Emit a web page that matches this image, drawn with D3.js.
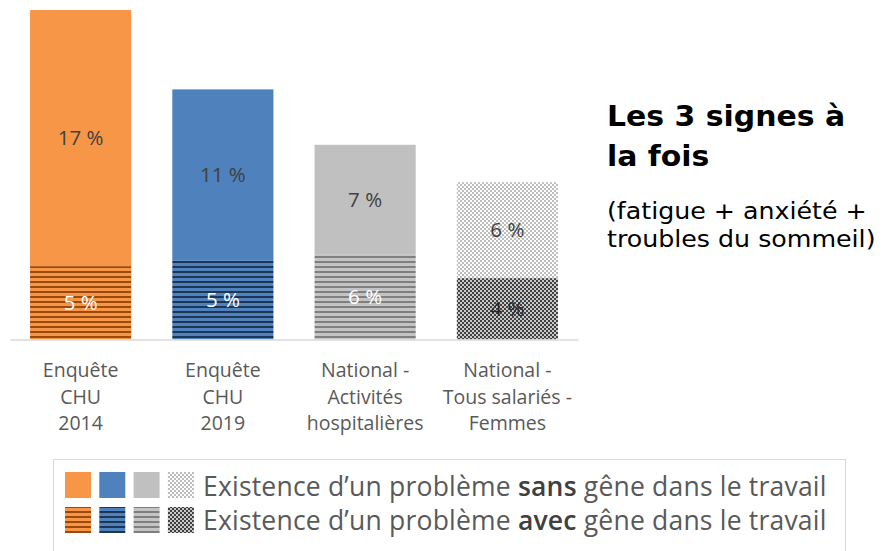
<!DOCTYPE html>
<html>
<head>
<meta charset="utf-8">
<script src="https://cdn.jsdelivr.net/npm/d3@7"></script>
<style>
  body { margin: 0; background: #fff; }
  text { font-family: "Open Sans", sans-serif; }
</style>
</head>
<body>
<script>
// données
const categories = [
    ['Enquête', 'CHU', '2014'],
    ['Enquête', 'CHU', '2019'],
    ['National -', 'Activités', 'hospitalières'],
    ['National -', 'Tous salariés -', 'Femmes']
];
const avecGene = [4.9, 5.3, 5.7, 4.1];
const sansGene = [17.1, 11.4, 7.3, 6.4];
const labelsAvec = ['5 %', '5 %', '6 %', '4 %'];
const labelsSans = ['17 %', '11 %', '7 %', '6 %'];
const legendTexts = [
    ['Existence d\u2019un problème ', 'sans', ' gêne dans le travail'],
    ['Existence d\u2019un problème ', 'avec', ' gêne dans le travail']
];

const width = 882;
const height = 551;

const svg = d3.select('body')
    .append('svg')
    .attr('width', width)
    .attr('height', height);

// motifs (rayures / damiers)
const defs = svg.append('defs');
const stripes = [
    { id: 's0', light: '#f79646', dark: '#9a4a0c' },
    { id: 's1', light: '#4f81bd', dark: '#1d3655' },
    { id: 's2', light: '#c4c4c4', dark: '#7f7f7f' }
];
stripes.forEach(s => {
    const p = defs.append('pattern')
        .attr('id', s.id)
        .attr('patternUnits', 'userSpaceOnUse')
        .attr('width', 8).attr('height', 5);
    p.append('rect').attr('width', 8).attr('height', 5).attr('fill', s.light);
    p.append('rect').attr('y', 1).attr('width', 8).attr('height', 2).attr('fill', s.dark);
});
function checker(id, a, b) {
    const p = defs.append('pattern')
        .attr('id', id)
        .attr('patternUnits', 'userSpaceOnUse')
        .attr('width', 4).attr('height', 4);
    p.append('rect').attr('width', 4).attr('height', 4).attr('fill', a);
    p.append('rect').attr('width', 2).attr('height', 2).attr('fill', b);
    p.append('rect').attr('x', 2).attr('y', 2).attr('width', 2).attr('height', 2).attr('fill', b);
}
checker('c0', '#ffffff', '#bdbdbd');
checker('c1', '#c8c8c8', '#404040');

const fillSans = ['#f79646', '#4f81bd', '#c0c0c0', 'url(#c0)'];
const fillAvec = ['url(#s0)', 'url(#s1)', 'url(#s2)', 'url(#c1)'];
const colorSans = ['#404040', '#404040', '#404040', '#404040'];
const colorAvec = ['#ffffff', '#ffffff', '#ffffff', '#262626'];

// échelles
const xScale = d3.scaleBand()
    .domain(d3.range(categories.length))
    .range([10, 578])
    .paddingInner(0.289)
    .paddingOuter(0.141);
const yScale = d3.scaleLinear()
    .domain([0, 22])
    .range([339.5, 10]);

const g = svg.append('g');

// barres du bas (avec gêne)
g.selectAll('rect.avec')
    .data(avecGene)
    .join('rect')
    .attr('class', 'avec')
    .attr('x', (d, i) => xScale(i))
    .attr('width', xScale.bandwidth())
    .attr('y', d => yScale(d))
    .attr('height', d => yScale(0) - yScale(d))
    .attr('fill', (d, i) => fillAvec[i]);

// barres du haut (sans gêne)
g.selectAll('rect.sans')
    .data(sansGene)
    .join('rect')
    .attr('class', 'sans')
    .attr('x', (d, i) => xScale(i))
    .attr('width', xScale.bandwidth())
    .attr('y', (d, i) => yScale(avecGene[i] + d))
    .attr('height', (d, i) => yScale(avecGene[i]) - yScale(avecGene[i] + d))
    .attr('fill', (d, i) => fillSans[i]);

// étiquettes
g.selectAll('text.lavec')
    .data(avecGene)
    .join('text')
    .attr('x', (d, i) => xScale(i) + xScale.bandwidth() / 2)
    .attr('y', d => yScale(d / 2))
    .attr('dy', '0.35em')
    .attr('text-anchor', 'middle')
    .attr('font-size', 20.5)
    .attr('fill', (d, i) => colorAvec[i])
    .text((d, i) => labelsAvec[i]);

g.selectAll('text.lsans')
    .data(sansGene)
    .join('text')
    .attr('x', (d, i) => xScale(i) + xScale.bandwidth() / 2)
    .attr('y', (d, i) => yScale(avecGene[i] + d / 2))
    .attr('dy', '0.35em')
    .attr('text-anchor', 'middle')
    .attr('font-size', 20.5)
    .attr('fill', (d, i) => colorSans[i])
    .text((d, i) => labelsSans[i]);

// axe x
const xAxis = svg.append('g')
    .attr('transform', `translate(0, ${yScale(0)})`)
    .call(d3.axisBottom(xScale).tickSize(0).tickFormat(''));
xAxis.select('.domain').attr('stroke', '#d9d9d9').attr('stroke-width', 1.5);

// libellés des catégories, une ligne par élément text
categories.forEach((lines, i) => {
    svg.selectAll(`text.cat${i}`)
        .data(lines)
        .join('text')
        .attr('class', `cat${i}`)
        .attr('x', xScale(i) + xScale.bandwidth() / 2)
        .attr('y', (d, j) => 377 + j * 26.7)
        .attr('text-anchor', 'middle')
        .attr('font-size', 19.5)
        .attr('fill', '#595959')
        .text(d => d);
});

// titre (légèrement élargi horizontalement)
const title = svg.append('text')
    .attr('transform', 'translate(607,0) scale(1.087,1)')
    .style('font-family', '"DejaVu Sans", sans-serif')
    .attr('font-weight', 'bold')
    .attr('font-size', 27.5)
    .attr('fill', '#000');
title.append('tspan').attr('x', 0).attr('y', 126).text('Les 3 signes à');
title.append('tspan').attr('x', 0).attr('y', 166).text('la fois');

const sub = svg.append('text')
    .attr('transform', 'translate(607,0) scale(1.1,1)')
    .style('font-family', '"DejaVu Sans", sans-serif')
    .attr('font-size', 23)
    .attr('fill', '#000');
sub.append('tspan').attr('x', 0).attr('y', 219).text('(fatigue + anxiété +');
sub.append('tspan').attr('x', 0).attr('y', 247).text('troubles du sommeil)');

// légende
const legend = svg.append('g');
legend.append('rect')
    .attr('x', 53.5).attr('y', 459.5)
    .attr('width', 792).attr('height', 100)
    .attr('fill', 'none')
    .attr('stroke', '#d9d9d9');

const rows = [fillSans, fillAvec];
rows.forEach((fills, r) => {
    legend.selectAll(`rect.sw${r}`)
        .data(fills)
        .join('rect')
        .attr('x', (d, i) => 65 + i * 34.3)
        .attr('y', 472 + r * 35)
        .attr('width', 26).attr('height', 26)
        .attr('fill', d => d);
    const t = legend.append('text')
        .attr('x', 203)
        .attr('y', 496 + r * 34)
        .attr('font-size', 26.5)
        .attr('letter-spacing', 0.2)
        .attr('fill', '#595959');
    legendTexts[r].forEach((s, k) => {
        t.append('tspan')
            .attr('font-weight', k === 1 ? 600 : null)
            .attr('fill', k === 1 ? '#404040' : null)
            .text(s);
    });
});
</script>
</body>
</html>
